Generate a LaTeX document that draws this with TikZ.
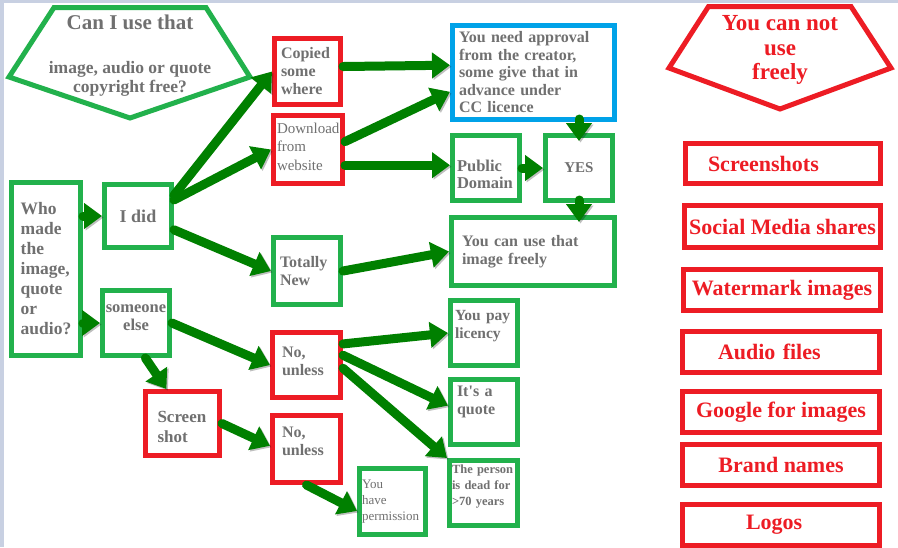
\documentclass[tikz,border=0pt]{standalone}
\usepackage{fontspec}
\setmainfont{Liberation Serif}
\usetikzlibrary{arrows.meta, calc}
\definecolor{okgreen}{RGB}{34,177,76}
\definecolor{nored}{RGB}{237,28,36}
\definecolor{askblue}{RGB}{0,162,232}
\definecolor{flowgreen}{RGB}{0,128,0}
\definecolor{txtgrey}{RGB}{112,112,112}
\definecolor{pageedge}{RGB}{200,208,226}
\tikzset{
box/.style={draw, line width=5pt, fill=white, inner sep=0pt, text=txtgrey, font=\bfseries\fontsize{16}{18}\selectfont}, % frame shared by all boxes
okbox/.style={box, draw=okgreen}, % green: allowed
nobox/.style={box, draw=nored}, % red: not allowed
infobox/.style={box, draw=askblue}, % blue: ask first
listbox/.style={nobox, text=nored, font=\bfseries\fontsize{22}{24}\selectfont, align=center}, % right column
boxsize/.style 2 args={minimum width=#1pt, minimum height=#2pt},
fsize/.style 2 args={font=\bfseries\fontsize{#1}{#2}\selectfont},
fplain/.style 2 args={font=\fontsize{#1}{#2}\selectfont},
textup/.style={execute at end node={\par\vspace*{#1}}}, % pushes the text up by half of #1
textdown/.style={execute at begin node={\par\nointerlineskip\vspace*{#1}}}, % pushes it down
flow/.style={draw=flowgreen, line width=9pt, line cap=round, -{Triangle[length=18pt,width=25pt]},
  preaction={draw=black, opacity=0.25, transform canvas={xshift=1.5pt,yshift=-1.5pt}}}, % fat arrows
}
\begin{document}
\begin{tikzpicture}[x=1pt, y=-1pt]

            \useasboundingbox (0,0) rectangle (898,547);
            \fill[pageedge] (0,0) rectangle (898,547);
            \fill[white] (4,3) rectangle (898,547);

            % the two headings
            \draw[okgreen, line width=5pt] (54,7.5) -- (206,7.5) -- (250,77) -- (130,118) -- (9,77) -- cycle;
            \node[text=txtgrey, fsize={21}{24}] (askhead) at (130,22) {Can I use that};
            \node[text=txtgrey, fsize={17.5}{18.5}, align=center] (askbody) at (130,79) {image, audio or quote\\copyright free?};

            \draw[nored, line width=5pt] (708.5,6.5) -- (851,6.5) -- (891,68) -- (780,109) -- (669,68) -- cycle;
            \node[text=nored, fsize={23}{24.5}, align=center] (notfree) at (780,50) {You can not\\use\\freely};

            % flow chart
            \node [okbox, boxsize={69}{173}, fsize={17.5}{20}, align=left] (who) at (46,269) {Who\\made\\the\\image,\\quote\\or\\audio?};
            \node [okbox, boxsize={67}{63}, fsize={18}{20}] (idid) at (138,216) {I did};
            \node [okbox, boxsize={67}{65}, fsize={16.5}{18}, text width=66pt, align=center, textup=10pt] (someone) at (136,323) {someone\\else};

            \node [nobox, boxsize={66}{66}, text width=53pt, align=left] (copied) at (307.5,71.5) {Copied\\some\\where};
            \node [nobox, boxsize={69}{68}, fplain={15}{18.5}, text width=62pt, align=left, textup=6pt] (download) at (308,149.5) {Download\\from\\website};
            \node [okbox, boxsize={67}{67}, text width=54pt, align=left] (totally) at (307,271) {Totally\\New};

            \node [infobox, boxsize={162}{94}, fsize={16}{17.5}, text width=149pt, align=left] (approval) at (533.5,72.5) {You need approval\\from the creator,\\some give that in\\advance under\\CC licence};
            \node [okbox, boxsize={67}{65}, fsize={16.5}{17}, text width=58pt, align=left, textdown=13pt] (public) at (486,168) {Public\\Domain};
            \node [okbox, boxsize={67}{65}, fsize={15}{17}] (yes) at (579,168) {YES};
            \node [okbox, boxsize={163}{68}, text width=142pt, align=left] (freely) at (533,251.5) {You can use that\\image freely};

            \node [nobox, boxsize={68}{65}, text width=49pt, align=left, textup=8pt] (nounlessA) at (306.5,365) {No,\\unless};
            \node [nobox, boxsize={74}{64}, fsize={17}{20}, text width=50pt, align=left, textdown=7pt] (screen) at (182.5,423.5) {Screen\\shot};
            \node [nobox, boxsize={68}{67}, text width=49pt, align=left, textup=16pt] (nounlessB) at (306.5,449) {No,\\unless};

            \node [okbox, boxsize={67}{65}, fsize={15.5}{18}, text width=58pt, align=left, textup=14pt] (paylic) at (484,333) {You pay\\licency};
            \node [okbox, boxsize={67}{65}, text width=54pt, align=left, textup=20pt] (quote) at (484,412) {It\textquotesingle s a\\quote};
            \node [okbox, boxsize={68}{65}, fsize={12.5}{16}, text width=63pt, align=left, textup=12pt] (dead) at (483.5,493) {The person\\is dead for\\>70 years};
            \node [okbox, boxsize={66}{66}, fplain={13}{16}, text width=61pt, align=left] (permission) at (392.5,501.5) {You\\have\\permission};

            % what can not be used freely
            \node [listbox, boxsize={195}{40}, text width=150pt, align=left] (shots) at (783,163.5) {Screenshots};
            \node [listbox, boxsize={196}{42}] (social) at (782.5,226.5) {Social Media shares};
            \node [listbox, boxsize={197}{41}] (water) at (782,290) {Watermark images};
            \node [listbox, boxsize={197}{41}, text width=126pt, align=left] (audio) at (781,352) {Audio files};
            \node [listbox, boxsize={197}{41}] (google) at (781,412) {Google for images};
            \node [listbox, boxsize={197}{41}] (brand) at (781,465) {Brand names};
            \node [listbox, boxsize={197}{41}, text width=70pt, align=left] (logos) at (781,525) {Logos};

            \draw[flow] (idid.west -| who.east) -- (idid.west);
            \draw[flow] (someone.west -| who.east) -- (someone.west);
            \draw[flow] (idid.30) -- (copied.west);
            \draw[flow] (idid.24) -- (download.west);
            \draw[flow] (idid.-21) -- (totally.west);
            \draw[flow] (copied.8) -- (approval.175);
            \draw[flow] (download.12) -- (approval.193);
            \draw[flow] (download.-23) -- (download.-23 -| public.west);
            \draw[flow] (public.east) -- (yes.west);
            \draw[flow] ($(yes.north |- approval.south)+(0,-3)$) -- ($(yes.north)+(0,8)$);
            \draw[flow] ($(yes.south)+(0,-3)$) -- ($(freely.north -| yes.south)+(0,7)$);
            \draw[flow] (totally.east) -- (freely.west);
            \draw[flow] (someone.east) -- (nounlessA.west);
            \draw[flow] (someone.-75) -- (screen.115);
            \draw[flow] (nounlessA.30) -- (paylic.west);
            \draw[flow] (nounlessA.15) -- (quote.170);
            \draw[flow] (nounlessA.-5) -- (dead.north west);
            \draw[flow] (screen.east) -- (nounlessB.175);
            \draw[flow] (nounlessB.south) -- (permission.195);
        \end{tikzpicture}
\end{document}
